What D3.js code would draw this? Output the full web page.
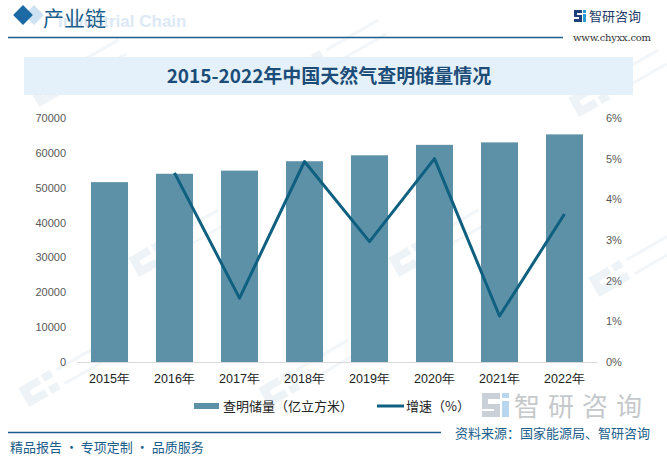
<!DOCTYPE html>
<html><head><meta charset="utf-8">
<script src="https://cdn.jsdelivr.net/npm/d3@7"></script>
<style>
html,body{margin:0;padding:0;background:#fff;}
svg{display:block;font-family:"Noto Sans CJK SC","Noto Sans",sans-serif;}
</style></head>
<body><svg id="c" width="667" height="457"></svg>
<script>
const years = ["2015年","2016年","2017年","2018年","2019年","2020年","2021年","2022年"];
const reserves = [51600, 54000, 54900, 57600, 59300, 62300, 63000, 65300];
const growth = [null, 4.65, 1.57, 4.93, 2.96, 5.0, 1.13, 3.64];
const leftTicks = [0,10000,20000,30000,40000,50000,60000,70000];
const rightTicks = [0,1,2,3,4,5,6];
const title = "2015-2022年中国天然气查明储量情况";
const seriesNames = ["查明储量（亿立方米）","增速（%）"];

const svg = d3.select("#c");
const barColor="#5d91a8", lineColor="#0f6080", navy="#1b5e8b";

// faint watermarks (logo shapes only)
const wm = svg.append("g");
const wmPos=[[70,80],[330,60],[610,90],[170,250],[430,250],[630,270],[60,380],[300,380]];
wmPos.forEach(p=>{
  const g=wm.append("g").attr("transform",`translate(${p[0]},${p[1]}) rotate(-30)`);
  g.append("path").attr("d","M-40,-14 h22 v8 h-14 v6 h14 v8 h-22 z M-14,-14 h10 v8 h-10z M-14,0 h10 v8 h-10z")
    .attr("fill","#eef3f8");
  g.append("path").attr("d","M2,-12 h60 v3 h-60z M2,4 h60 v3 h-60z").attr("fill","#f3f6f9");
});

// header
svg.append("rect").attr("x",27).attr("y",8).attr("width",14).attr("height",14)
  .attr("transform","rotate(45 34 15)").attr("fill","#cfe2f1");
svg.append("rect").attr("x",16).attr("y",8).attr("width",14).attr("height",14)
  .attr("transform","rotate(45 23 15)").attr("fill","#1b6aa3");
svg.append("text").attr("x",58).attr("y",27).attr("font-size",17).attr("font-weight","bold")
  .attr("font-family","Arial,Liberation Sans,sans-serif").attr("fill","#dce9f4").text("Industrial Chain");
svg.append("text").attr("x",43).attr("y",26).attr("font-size",21).attr("fill",navy).text("产业链");
svg.append("line").attr("x1",8).attr("x2",563).attr("y1",37.5).attr("y2",37.5).attr("stroke",navy).attr("stroke-width",1.3);
// logo right
const lg=svg.append("g").attr("transform","translate(574,10)");
lg.append("path").attr("d","M0,0 h8 v3 h-5 v2 h5 v7 h-8 v-3 h5 v-2 h-5 z").attr("fill","#1f3f7a");
lg.append("rect").attr("x",9).attr("y",0).attr("width",3).attr("height",3).attr("fill","#2a9ad6");
lg.append("rect").attr("x",9).attr("y",4).attr("width",3).attr("height",8).attr("fill","#2a9ad6");
svg.append("text").attr("x",589).attr("y",21).attr("font-size",13).attr("fill","#1e3a66").text("智研咨询");
svg.append("text").attr("x",573).attr("y",41).attr("font-size",10).attr("font-family","DejaVu Serif,serif")
  .attr("fill","#333").attr("textLength",78).text("www.chyxx.com");

// title band
svg.append("rect").attr("x",24).attr("y",57).attr("width",609).attr("height",38).attr("fill","#e5f1fa");
svg.append("text").attr("x",329).attr("y",83).attr("text-anchor","middle").attr("font-size",19)
  .attr("font-weight","bold").attr("fill","#1b4d78").text(title);

// scales
const x=d3.scaleBand().domain(years).range([77,597]).paddingInner(0.43).paddingOuter(0.215);
const yL=d3.scaleLinear().domain([0,70000]).range([362,118]);
const yR=d3.scaleLinear().domain([0,6]).range([362,118]);

// axes
const axL=svg.append("g").attr("transform","translate(66,0)")
  .call(d3.axisLeft(yL).tickValues(leftTicks).tickSize(0).tickPadding(0).tickFormat(d3.format("d")));
axL.select(".domain").remove();
axL.selectAll("text").attr("font-size",11).attr("fill","#595959").attr("font-family","Liberation Sans,Arial,sans-serif");
const axR=svg.append("g").attr("transform","translate(606,0)")
  .call(d3.axisRight(yR).tickValues(rightTicks).tickSize(0).tickPadding(0).tickFormat(d=>d+"%"));
axR.select(".domain").remove();
axR.selectAll("text").attr("font-size",11).attr("fill","#595959").attr("font-family","Liberation Sans,Arial,sans-serif");

// bars
svg.append("g").selectAll("rect").data(reserves).join("rect")
  .attr("x",(d,i)=>x(years[i])).attr("width",x.bandwidth())
  .attr("y",d=>yL(d)).attr("height",d=>yL(0)-yL(d)).attr("fill",barColor);

// x axis
const axB=svg.append("g").attr("transform","translate(0,362)")
  .call(d3.axisBottom(x).tickSize(0).tickPadding(12));
axB.select(".domain").attr("stroke","#d9d9d9");
axB.selectAll("text").attr("font-size",12.5).attr("fill","#222");

// line
const pts=growth.map((g,i)=>[g,i]).filter(d=>d[0]!==null);
svg.append("path").datum(pts)
  .attr("d",d3.line().x(d=>x(years[d[1]])+x.bandwidth()/2).y(d=>yR(d[0])))
  .attr("fill","none").attr("stroke",lineColor).attr("stroke-width",3).attr("stroke-linejoin","round");

// legend
svg.append("rect").attr("x",194).attr("y",403).attr("width",25).attr("height",6).attr("fill",barColor);
svg.append("text").attr("x",223).attr("y",411).attr("font-size",13).attr("fill","#222").text(seriesNames[0]);
svg.append("line").attr("x1",377).attr("x2",404).attr("y1",406).attr("y2",406).attr("stroke",lineColor).attr("stroke-width",3);
svg.append("text").attr("x",406).attr("y",411).attr("font-size",13).attr("fill","#222").text(seriesNames[1]);

// watermark logo bottom
const bl=svg.append("g").attr("transform","translate(482,393)");
bl.append("path").attr("d","M0,0 h18 v6 h-12 v5 h12 v13 h-18 v-6 h12 v-2 h-12 z").attr("fill","#c9d0d8");
bl.append("rect").attr("x",20).attr("y",0).attr("width",7).attr("height",5).attr("fill","#b8d7ee");
bl.append("rect").attr("x",20).attr("y",8).attr("width",7).attr("height",16).attr("fill","#b8d7ee");
svg.append("text").attr("x",514).attr("y",416).attr("font-size",26).attr("fill","#c6c9cc").attr("textLength",128).text("智研咨询");

// footer
svg.append("line").attr("x1",8).attr("x2",441).attr("y1",432.5).attr("y2",432.5).attr("stroke",navy).attr("stroke-width",1.3);
svg.append("text").attr("x",455).attr("y",438).attr("font-size",13).attr("fill",navy).text("资料来源：国家能源局、智研咨询");
svg.append("text").attr("x",10).attr("y",452).attr("font-size",13).attr("fill",navy).text("精品报告 · 专项定制 · 品质服务");
</script></body></html>
